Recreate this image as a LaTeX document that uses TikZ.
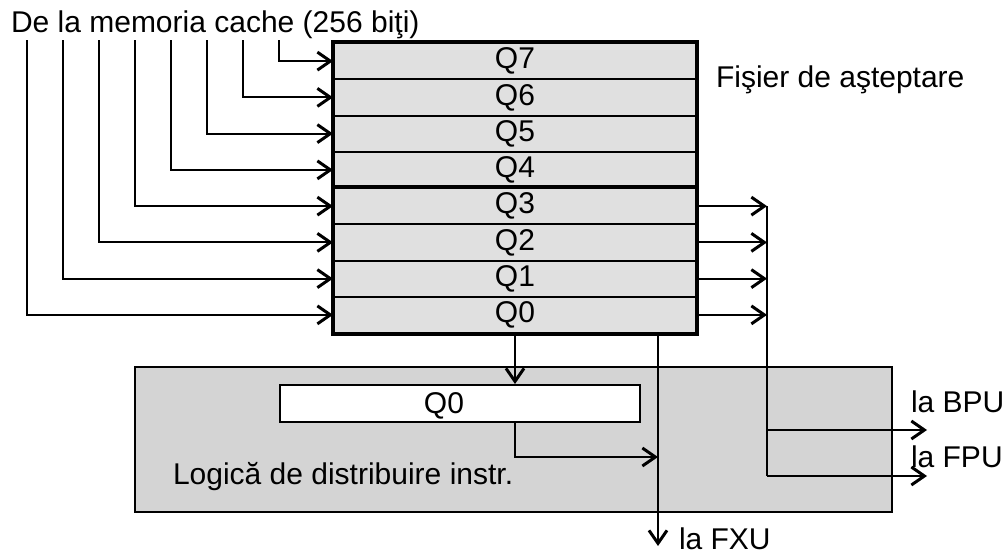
\documentclass[tikz,border=0pt]{standalone}
\usepackage{fontspec}
\setmainfont{Liberation Sans}
\usetikzlibrary{arrows.meta}
\begin{document}
\begin{tikzpicture}[x=1pt,y=-1pt,font=\fontsize{30}{36}\selectfont,line width=2pt,
  arr/.style={-{Straight Barb[length=13pt,width=18pt,line width=3pt]}},
  qrow/.style={draw,fill=black!12,minimum width=362pt,minimum height=36.25pt,inner sep=0pt,anchor=north west},
  txt/.style={anchor=base west,inner sep=0pt}]
\useasboundingbox (0,0) rectangle (1006,557);
\node[draw,fill=black!17,minimum width=757pt,minimum height=145pt,inner sep=0pt] (dist) at (513.5,439.5) {};
\node[draw,fill=white,minimum width=360pt,minimum height=37pt,inner sep=0pt] (iq0) at (460,403.5) {};
\node[anchor=base,inner sep=0pt] (iq0txt) at (444,413) {Q0};
\node[txt] (ldist) at (172,484) {Logică de distribuire instr.};
\foreach \i in {0,...,7}
  \node[qrow] (q\i) at (333,{42+36.25*(7-\i)}) {Q\i};
\draw[line width=4pt] (q7.north west) rectangle (q0.south east);
\draw[line width=4pt] (q3.north west) -- (q3.north east);
\foreach \i in {0,...,7} {
  \coordinate (in\i) at ({27+36*\i},40);
  \draw[arr] (in\i) |- (q\i.west);
}
\coordinate (bus) at (767,0);
\coordinate (busbot) at (767,476);
\foreach \i in {0,...,3}
  \draw[arr] (q\i.east) -- (q\i.east -| bus);
\draw (q3.east -| bus) -- (busbot);
\coordinate (bpu) at (927,430);
\coordinate (fpu) at (927,476);
\draw[arr] (bus |- bpu) -- (bpu);
\draw[arr] (busbot) -- (fpu);
\coordinate (fxu) at (658,0);
\coordinate (fxuend) at (658,546);
\coordinate (fxumid) at (658,457);
\draw[arr] (q0.south) -- (q0.south |- iq0.north);
\draw[arr] (q0.south -| fxu) -- (fxuend);
\draw[arr] (q0.south |- iq0.south) |- (fxumid);
\node[txt] (lcache) at (10,32) {De la memoria cache (256 biţi)};
\node[txt] (lfis) at (715,87) {Fişier de aşteptare};
\node[txt] (lbpu) at (910,412) {la BPU};
\node[txt] (lfpu) at (910,467) {la FPU};
\node[txt] (lfxu) at (678,549) {la FXU};
\end{tikzpicture}
\end{document}
